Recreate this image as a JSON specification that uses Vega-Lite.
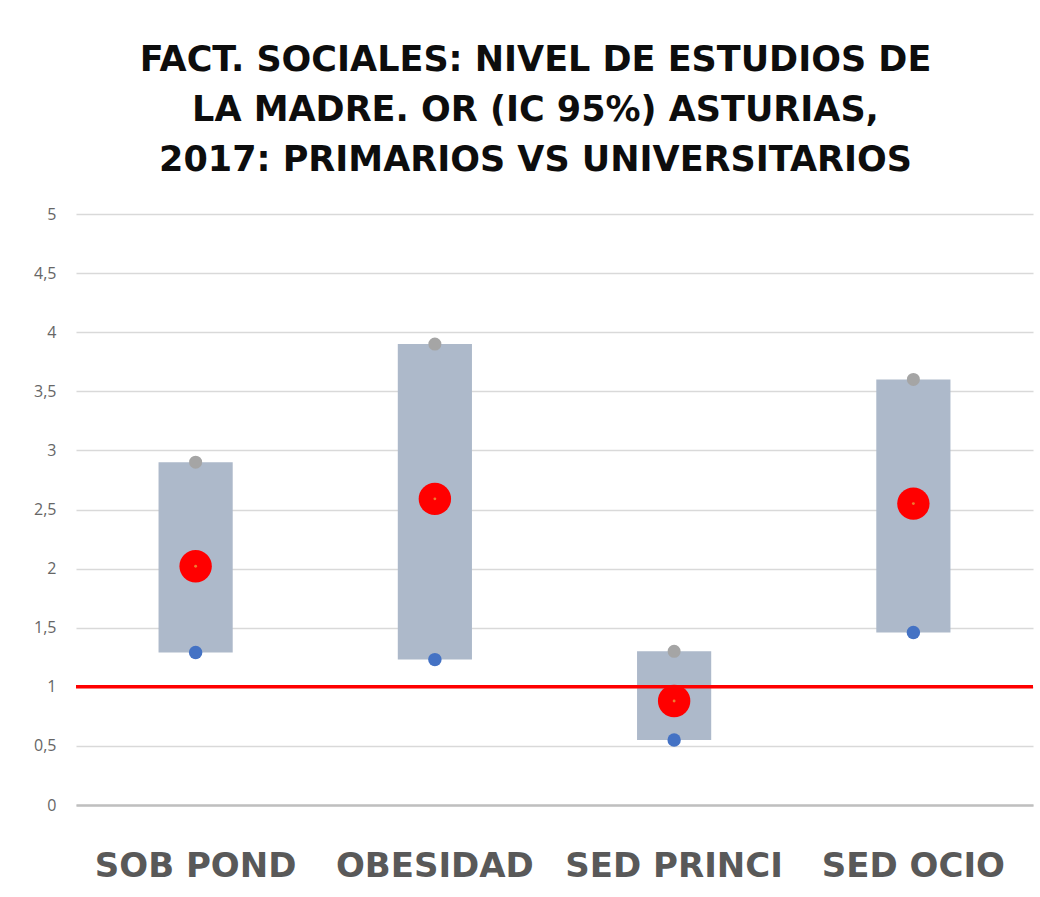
{
  "$schema": "https://vega.github.io/schema/vega-lite/v6.json",
  "width": 957,
  "height": 591,
  "autosize": {"type": "none"},
  "padding": {"left": 76, "top": 214, "right": 7, "bottom": 92},
  "background": "white",
  "title": {
    "text": ["FACT. SOCIALES: NIVEL DE ESTUDIOS DE", "LA MADRE. OR (IC 95%) ASTURIAS,", "2017: PRIMARIOS VS UNIVERSITARIOS"],
    "font": "DejaVu Sans",
    "fontSize": 35,
    "fontWeight": "bold",
    "color": "#0d0d0d",
    "lineHeight": 50,
    "anchor": "middle",
    "baseline": "alphabetic",
    "offset": 0,
    "dx": -19,
    "limit": 1000
  },
  "data": {
    "values": [
      {"cat": "SOB POND", "lower": 1.29, "upper": 2.9, "or": 2.02},
      {"cat": "OBESIDAD", "lower": 1.23, "upper": 3.9, "or": 2.59},
      {"cat": "SED PRINCI", "lower": 0.55, "upper": 1.3, "or": 0.88},
      {"cat": "SED OCIO", "lower": 1.46, "upper": 3.6, "or": 2.55}
    ]
  },
  "encoding": {
    "x": {
      "field": "cat",
      "type": "nominal",
      "sort": null,
      "title": null,
      "scale": {"paddingInner": 0, "paddingOuter": 0},
      "axis": {
        "labelAngle": 0,
        "labelFont": "DejaVu Sans",
        "labelFontWeight": "bold",
        "labelFontSize": 34,
        "labelColor": "#595959",
        "labelPadding": 44,
        "labelLimit": 0,
        "ticks": false,
        "domainColor": "#bfbfbf",
        "domainWidth": 2.5,
        "grid": false
      }
    }
  },
  "layer": [
    {
      "mark": {"type": "bar", "color": "#adb9ca", "width": {"band": 0.31}},
      "encoding": {
        "y": {
          "field": "lower",
          "type": "quantitative",
          "title": null,
          "scale": {"domain": [0, 5], "nice": false, "zero": true},
          "axis": {
            "values": [0, 0.5, 1, 1.5, 2, 2.5, 3, 3.5, 4, 4.5, 5],
            "format": "~g",
            "labelExpr": "replace(datum.label, '.', ',')",
            "labelFont": "Open Sans",
            "labelFontSize": 16,
            "labelColor": "#666666",
            "labelPadding": 20,
            "ticks": false,
            "domain": false,
            "gridColor": "#d9d9d9",
            "gridWidth": 1.5
          }
        },
        "y2": {"field": "upper"}
      }
    },
    {
      "data": {"values": [{"ref": 1}]},
      "mark": {"type": "rule", "color": "#ff0000", "strokeWidth": 3.5},
      "encoding": {"y": {"field": "ref", "type": "quantitative"}, "x": null}
    },
    {
      "mark": {"type": "point", "filled": true, "opacity": 1, "color": "#a5a5a5", "size": 170},
      "encoding": {"y": {"field": "upper", "type": "quantitative"}}
    },
    {
      "mark": {"type": "point", "filled": true, "opacity": 1, "color": "#4472c4", "size": 180},
      "encoding": {"y": {"field": "lower", "type": "quantitative"}}
    },
    {
      "mark": {"type": "point", "filled": true, "opacity": 1, "color": "#ff0000", "size": 1050},
      "encoding": {"y": {"field": "or", "type": "quantitative"}}
    },
    {
      "mark": {"type": "point", "filled": true, "opacity": 1, "color": "#ed7d31", "size": 8},
      "encoding": {"y": {"field": "or", "type": "quantitative"}}
    }
  ],
  "config": {"view": {"stroke": null}}
}
